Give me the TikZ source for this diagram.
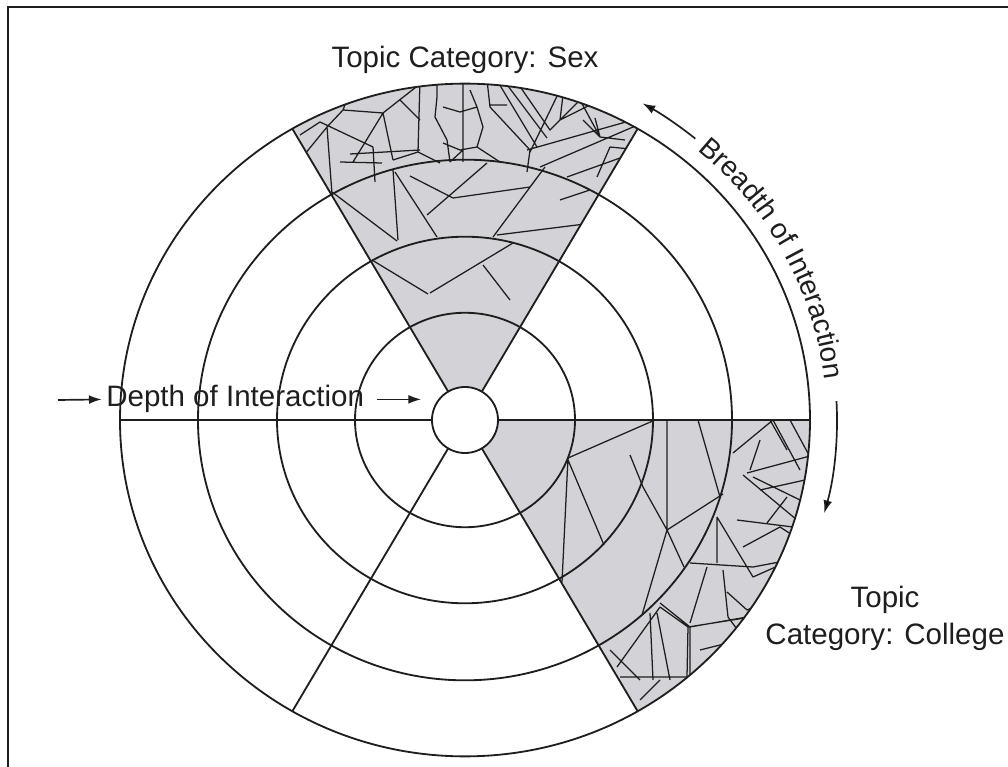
\documentclass[tikz,border=0pt]{standalone}
\usepackage{fontspec}
\setmainfont{Liberation Sans}
\usetikzlibrary{arrows.meta,calc,decorations.text}
\definecolor{ink}{HTML}{1E1E1E}
\definecolor{glass}{HTML}{D3D3D7}

\begin{document}
\begin{tikzpicture}[x=0.025cm,y=-0.025cm,
  ring/.style={draw=ink,line width=1.3pt},
  shard/.style={draw=ink,line width=0.9pt,line join=round},
  flow/.style={draw=ink,line width=1.2pt,-{Latex[length=3.2mm,width=2.2mm]}},
  lbl/.style={text=ink,inner sep=0pt,font=\fontsize{21}{26}\selectfont}]
\useasboundingbox (0,0) rectangle (1008,767);
\coordinate (ctr) at (465,420);
\draw[ink,line width=1.4pt] (8,767) -- (8,7) -- (1008,7);

% shaded sectors
\fill[glass] (ctr) -- ++(-60:345 and 336) arc[start angle=-60,end angle=-120,x radius=345,y radius=336] -- cycle;
\fill[glass] (ctr) -- ++(0:345 and 336) arc[start angle=0,end angle=60,x radius=345,y radius=336] -- cycle;

% broken glass, top sector
\begin{scope}
\clip (ctr) -- ++(-60:345 and 336) arc[start angle=-60,end angle=-120,x radius=345,y radius=336] -- cycle;
\draw[shard] (300,160)--(327,127)--(343,110)--(383,113)--(425,80)
  (327,127)--(332,194)
  (320,122)--(373,147)
  (300,135)--(320,122)
  (343,110)--(352,86)
  (383,113)--(353,162)
  (383,113)--(393,160)
  (373,147)--(375,182)
  (400,100)--(420,120)
  (420,80)--(418,152)
  (350,154)--(420,150)
  (393,160)--(418,152)--(440,163)
  (437,80)--(437,97)--(435,117)--(447,140)--(450,162)
  (443,107)--(460,112)--(477,107)--(483,127)--(477,147)--(460,150)--(443,143)
  (470,90)--(477,107)
  (450,162)--(463,150)
  (463,80)--(463,162)
  (477,147)--(500,162)
  (487,80)--(490,107)--(530,150)--(527,172)
  (490,105)--(507,105)
  (498,82)--(537,147)
  (508,86)--(547,138)
  (521,88)--(550,130)--(580,100)--(600,137)--(625,140)
  (560,90)--(530,152)
  (563,95)--(560,120)--(590,105)
  (527,150)--(640,118)
  (583,120)--(600,137)--(595,118)
  (540,167)--(640,124)
  (567,177)--(620,158)
  (597,177)--(610,147)--(640,150)
  (340,162)--(382,163)
  (332,192)--(397,241)
  (393,170)--(398,240)
  (395,172)--(437,237)
  (410,176)--(453,198)
  (427,215)--(487,163)
  (453,198)--(530,187)--(545,167)
  (493,237)--(545,167)
  (497,235)--(585,224)
  (560,200)--(590,190)
  (372,260)--(428,294)
  (430,293)--(513,243)
  (483,265)--(510,300);
\end{scope}

% broken glass, lower right sector
\begin{scope}
\clip (ctr) -- ++(0:345 and 336) arc[start angle=0,end angle=60,x radius=345,y radius=336] -- cycle;
\draw[shard] (568,458)--(655,420)
  (568,458)--(562,582)
  (568,460)--(604,545)
  (667,420)--(667,530)
  (630,455)--(643,487)--(667,530)
  (667,530)--(723,494)
  (698,420)--(720,497)
  (667,530)--(684,567)
  (667,530)--(642,615)
  (733,453)--(773,420)--(800,470)
  (750,470)--(760,440)
  (747,473)--(810,456)
  (760,490)--(805,480)
  (743,475)--(797,520)
  (737,520)--(793,527)
  (780,527)--(800,540)
  (743,547)--(780,527)
  (717,517)--(753,577)--(780,565)
  (690,563)--(753,567)--(790,560)
  (707,567)--(690,623)
  (723,570)--(728,617)--(745,640)
  (727,592)--(747,610)--(770,600)
  (690,627)--(747,617)
  (660,603)--(690,627)
  (690,627)--(690,680)
  (650,613)--(653,680)
  (620,677)--(687,677)
  (690,680)--(720,660)
  (700,650)--(740,640)
  (640,700)--(660,680)
  (610,650)--(640,680)
  (717,517)--(717,563)
  (770,420)--(787,450)
  (790,420)--(810,457)
  (753,477)--(800,500)
  (787,497)--(767,523)
  (617,667)--(660,607)
  (657,613)--(670,680)
  (687,677)--(688,627)
  (688,627)--(745,618)
  (660,607)--(688,627);
\end{scope}

% rings and spokes
\foreach \r in {110,188,267,345}
  \draw[ring] (ctr) circle[x radius=\r,y radius=0.975*\r];
\foreach \a in {0,60,...,300}
  \draw[ring] (ctr) -- ++(\a:345 and 336);
\node[ring,circle,fill=white,minimum size=1.65cm,inner sep=0pt] (hub) at (ctr) {};

% labels
\node[lbl,anchor=base] (sex) at (465,68) {Topic Category: Sex};
\node[lbl,anchor=base west] (depth) at (106,407) {Depth of Interaction};
\node[lbl,align=center,anchor=base] (college) at (885,644) {Topic\\Category: College};
\coordinate (din) at (58,400);
\draw[flow,shorten >=3pt] (din) -- (depth.west);
\draw[flow,shorten <=9pt,shorten >=7pt] (depth.east) -- (depth.east -| hub.west);

% breadth along the rim
\path[decorate,decoration={text along path,text align=center,text color=ink,
  text={|\fontsize{20}{25}\selectfont|Breadth of Interaction}}]
  ($(ctr)+(-56.5:362 and 352)$) arc[start angle=-56.5,end angle=0,x radius=362,y radius=352];
\draw[flow] ($(ctr)+(-51:366 and 362)$) arc[start angle=-51,end angle=-61,x radius=366,y radius=362];
\draw[flow] ($(ctr)+(-3:372 and 360)$) arc[start angle=-3,end angle=15,x radius=372,y radius=360];
\end{tikzpicture}
\end{document}
